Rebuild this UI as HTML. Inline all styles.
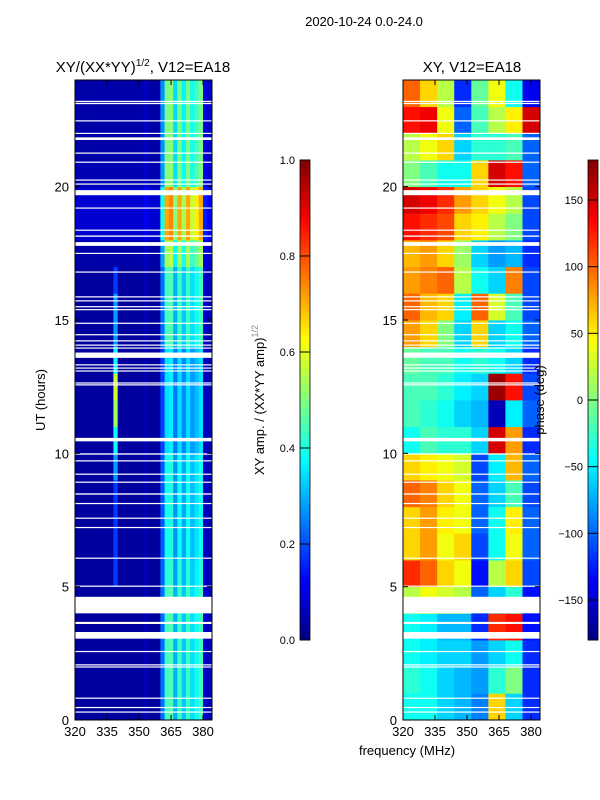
<!DOCTYPE html>
<html><head><meta charset="utf-8">
<style>
body{margin:0;background:#fff;}
svg{display:block;font-family:"Liberation Sans",sans-serif;}
</style></head>
<body>
<svg id="fig" width="600" height="800" viewBox="0 0 600 800" xmlns="http://www.w3.org/2000/svg">
<rect width="600" height="800" fill="#fff"/>
<text x="364" y="26" font-size="13" text-anchor="middle">2020-10-24 0.0-24.0</text>
<text x="143" y="72" font-size="15" text-anchor="middle">XY/(XX*YY)<tspan font-size="10" dy="-6">1/2</tspan><tspan dy="6">, V12=EA18</tspan></text>
<text x="472" y="72" font-size="15" text-anchor="middle">XY, V12=EA18</text>
<g id="ampPlot"></g>
<g id="phPlot"></g>
<g id="axes"></g>
<text transform="translate(45,400) rotate(-90)" font-size="13" text-anchor="middle">UT (hours)</text>
<text x="407" y="755" font-size="13" text-anchor="middle">frequency (MHz)</text>
<text transform="translate(264,400) rotate(-90)" font-size="13" text-anchor="middle">XY amp. / (XX*YY amp)<tspan font-size="9" dy="-6" fill="#888">1/2</tspan></text>
<text transform="translate(544,400) rotate(-90)" font-size="13" text-anchor="middle">phase (deg)</text>
</svg>
<script>
// ---- data ----
const freqBinsMHz = [320,322,324,326,328,330,332,334,336,338,340,342,344,346,348,350,352,354,356,358,360,362,364,366,368,370,372,374,376,378,380,382];
const ampFreqProfile = [0,0,0,0,0,0,0,0,0,0,0,0,0,0,0,0,0.05,0,0,0,0.45,0.9,0.95,0.6,0.9,0.65,0.9,0.7,0.8,0.9,0.1,0.06];
const ampHourLevel = [0.45,0.45,0.45,0.45,0.45,0.42,0.4,0.4,0.4,0.4,0.35,0.35,0.35,0.35,0.45,0.45,0.45,0.55,0.7,0.7,0.5,0.5,0.5,0.5];
const ampBaseHour = [0.03,0.03,0.03,0.03,0.03,0.03,0.03,0.03,0.03,0.03,0.03,0.03,0.03,0.03,0.03,0.03,0.03,0.04,0.08,0.08,0.05,0.04,0.04,0.04];
const spike338 = [0,0,0,0,0,0.15,0.15,0.15,0.15,0.25,0.35,0.5,0.55,0.35,0.25,0.25,0.15,0,0,0,0,0,0,0];
const phaseFreqEdges = [320,328,336,344,352,360,368,376,384];
const phaseGrid = [
 [-40,-40,-60,-70,-90,60,-60,-120],
 [-30,-40,-60,-70,-80,-30,0,-120],
 [-40,-50,-60,-60,-80,-60,-40,-120],
 [-40,-50,-70,-70,-120,120,130,-130],
 [20,40,30,20,-100,-60,-30,-130],
 [120,100,60,40,-130,20,60,-110],
 [60,80,40,60,-110,-40,40,-100],
 [60,80,50,40,-100,-40,50,-100],
 [100,90,60,40,-100,-60,-20,-110],
 [60,50,40,30,-110,-50,70,-100],
 [-40,-20,-30,-30,-60,150,80,-120],
 [-20,-30,-40,-60,-70,-160,-50,-100],
 [-20,-20,-30,-50,-60,170,130,-110],
 [-10,-20,-20,-40,-30,-40,-60,-120],
 [80,60,0,-60,60,-60,-40,-100],
 [100,70,60,-50,100,30,-20,-110],
 [80,90,100,20,-40,-60,90,-110],
 [70,80,60,10,-60,-80,-70,-120],
 [130,120,110,60,50,20,0,-110],
 [150,140,120,80,60,40,20,-110],
 [0,-20,-40,-40,60,150,130,-100],
 [20,40,60,-60,-30,-30,-20,-100],
 [130,140,40,-100,-20,20,50,150],
 [100,60,20,-120,-10,40,-40,-140]
];
const gapsUT = [[23.17,23.22],[23.1,23.14],[22.45,22.49],[21.98,22.02],[21.75,21.85],[21.24,21.28],[20.9,20.94],[20.23,20.27],[20.08,20.12],[19.68,19.87],[19.18,19.22],[18.35,18.39],[18.12,18.17],[17.78,17.92],[17.48,17.52],[16.78,16.82],[15.85,15.89],[15.7,15.74],[15.48,15.52],[15.37,15.41],[14.86,14.9],[14.43,14.47],[14.2,14.24],[14.04,14.08],[13.93,13.97],[13.58,13.78],[13.3,13.34],[13.18,13.22],[13.07,13.11],[12.62,12.66],[12.55,12.59],[10.45,10.58],[9.95,10.0],[9.7,9.74],[9.2,9.24],[8.9,8.94],[8.45,8.5],[8.1,8.14],[7.55,7.59],[7.2,7.24],[6.05,6.09],[5.0,5.04],[4.0,4.62],[3.6,3.68],[3.05,3.3],[2.55,2.59],[2.05,2.09],[1.98,2.01],[0.8,0.84],[0.45,0.49],[0.28,0.32]];
const yTicks = [0,5,10,15,20];
const xTicks = [320,335,350,365,380];
const ampCbTicks = [0.0,0.2,0.4,0.6,0.8,1.0];
const phCbTicks = [-150,-100,-50,0,50,100,150];

// ---- helpers ----
const NS="http://www.w3.org/2000/svg";
const T=24, Y0=720, Y1=80;
function yUT(h){return Y0-(h/T)*(Y0-Y1);}
function xF(panelX,f){return panelX+(f-320)/(384.2-320)*137;}
const AX=75, PX=403;
function clamp(v){return Math.max(0,Math.min(1,v));}
function jet(v){v=clamp(v);
 const r=clamp(Math.min(4*v-1.5,-4*v+4.5)),g=clamp(Math.min(4*v-0.5,-4*v+3.5)),b=clamp(Math.min(4*v+0.5,-4*v+2.5));
 return `rgb(${Math.round(r*255)},${Math.round(g*255)},${Math.round(b*255)})`;}
function mk(tag,parent,attrs){const e=document.createElementNS(NS,tag);for(const k in attrs)e.setAttribute(k,attrs[k]);parent.appendChild(e);return e;}

// amplitude heatmap
const ag=document.getElementById('ampPlot');
for(let h=0;h<T;h++){
 for(let c=0;c<freqBinsMHz.length;c++){
  let v=ampBaseHour[h]+ampFreqProfile[c]*ampHourLevel[h];
  if(freqBinsMHz[c]===338) v+=spike338[h];
  const x0=xF(AX,freqBinsMHz[c]), x1=xF(AX,freqBinsMHz[c]+2);
  const r=mk('rect',ag,{x:x0,y:yUT(h+1),width:x1-x0+0.4,height:yUT(h)-yUT(h+1)+0.4,fill:jet(v)});
  
  
 }
}
// phase heatmap
const pg=document.getElementById('phPlot');
for(let h=0;h<T;h++){
 for(let c=0;c<phaseFreqEdges.length-1;c++){
  const v=(phaseGrid[h][c]+180)/360;
  const x0=xF(PX,phaseFreqEdges[c]), x1=Math.min(xF(PX,phaseFreqEdges[c+1]),PX+137);
  const r=mk('rect',pg,{x:x0,y:yUT(h+1),width:x1-x0+0.4,height:yUT(h)-yUT(h+1)+0.4,fill:jet(v)});
  
  
 }
}
// gaps
for(const px of [AX,PX]){
 for(const g of gapsUT){
  const r=mk('rect',px===AX?ag:pg,{x:px,y:yUT(g[1]),width:137,height:Math.max(1.2,yUT(g[0])-yUT(g[1])),fill:'#fff'});
  
  
 }
}
// axes
const axg=document.getElementById('axes');
for(const px of [AX,PX]){
 const f=mk('rect',axg,{x:px,y:Y1,width:137,height:Y0-Y1,fill:'none',stroke:'#000','stroke-width':1});
 
 
 for(const t of yTicks){
  const y=yUT(t);
  mk('line',axg,{x1:px,x2:px+5,y1:y,y2:y,stroke:'#000'});
  mk('line',axg,{x1:px+137,x2:px+132,y1:y,y2:y,stroke:'#000'});
  const tx=mk('text',axg,{x:px-6,y:y+5,'font-size':13,'text-anchor':'end'});tx.textContent=t;
  
  
 }
 for(const t of xTicks){
  const x=xF(px,t);
  mk('line',axg,{x1:x,x2:x,y1:Y0,y2:Y0-5,stroke:'#000'});
  mk('line',axg,{x1:x,x2:x,y1:Y1,y2:Y1+5,stroke:'#000'});
  const tx=mk('text',axg,{x:x,y:Y0+16,'font-size':13,'text-anchor':'middle'});tx.textContent=t;
  
  
 }
}
// colorbars
function colorbar(x,ticks,lo,hi,name){
 const N=120,top=160,bot=640;
 for(let i=0;i<N;i++){
  const v=(i+0.5)/N;
  const r=mk('rect',axg,{x:x,y:bot-(i+1)*(bot-top)/N,width:10,height:(bot-top)/N+0.5,fill:jet(v)});
  
  
 }
 const f=mk('rect',axg,{x:x,y:top,width:10,height:bot-top,fill:'none',stroke:'#000','stroke-width':0.8});
 
 
 for(const t of ticks){
  const y=bot-(t-lo)/(hi-lo)*(bot-top);
  mk('line',axg,{x1:x,x2:x+10,y1:y,y2:y,stroke:'#000'});
  const tx=mk('text',axg,{x:x-5,y:y+4,'font-size':11,'text-anchor':'end'});
  tx.textContent=(lo===0?t.toFixed(1):(t<0?'\u2212'+(-t):t));
  
  
 }
}
colorbar(300,ampCbTicks,0,1,'amp-colorbar');
colorbar(588,phCbTicks,-180,180,'phase-colorbar');
</script>
</body></html>
